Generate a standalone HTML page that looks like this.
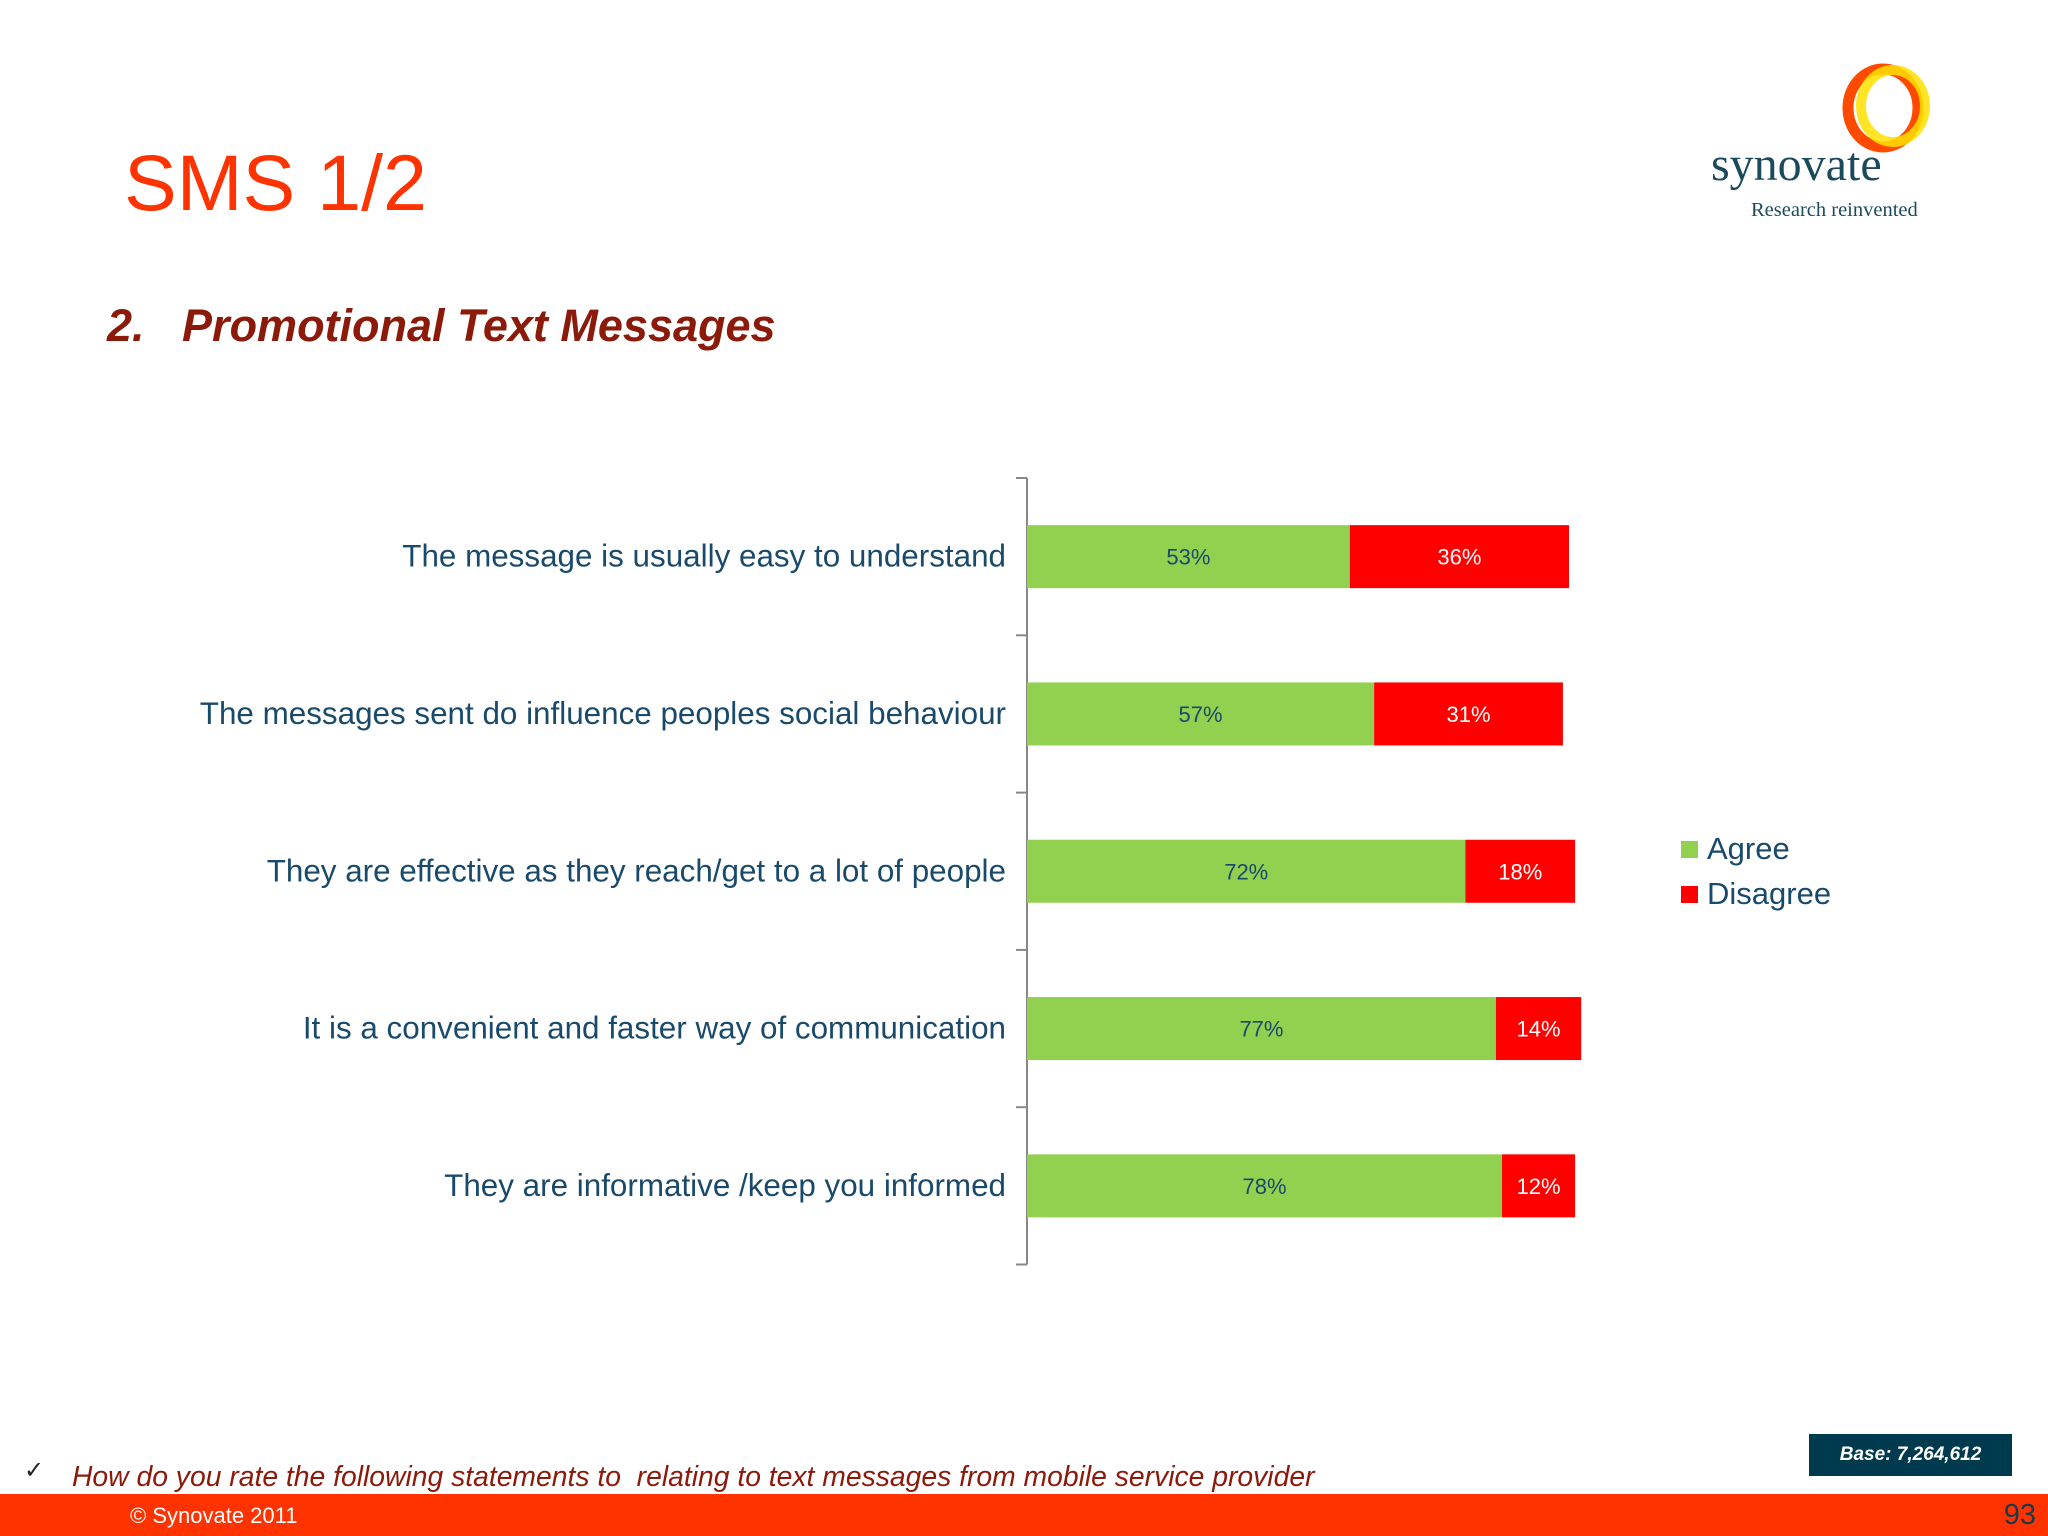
<!DOCTYPE html>
<html><head><meta charset="utf-8"><style>
body{margin:0;width:2048px;height:1536px;position:relative;background:#fff;font-family:"Liberation Sans",sans-serif;overflow:hidden}
.abs{position:absolute;white-space:nowrap}
</style></head><body>
<div class="abs" style="left:124px;top:143px;font-size:79px;color:#FF3300;line-height:1">SMS 1/2</div>
<div class="abs" style="left:107px;top:303px;font-size:45px;font-weight:bold;font-style:italic;color:#8B1A0A;line-height:1">2.&nbsp;&nbsp;&nbsp;Promotional Text Messages</div>
<svg class="abs" style="left:1690px;top:50px" width="260" height="180">
<ellipse cx="193" cy="58" rx="35" ry="39" fill="none" stroke="#FF4A00" stroke-width="11"/>
<ellipse cx="203" cy="56" rx="32" ry="36" fill="none" stroke="#FFE000" stroke-width="10" opacity="0.85"/>
<text x="21" y="130" font-family="Liberation Serif,serif" font-size="48" fill="#1A4A5C">synovate</text>
<text x="61" y="166" font-family="Liberation Serif,serif" font-size="20.5" fill="#1A4A5C">Research reinvented</text>
</svg>
<svg class="abs" style="left:0;top:0" width="2048" height="1536" id="chart"></svg>
<div class="abs" style="left:1809px;top:1434px;width:203px;height:42px;background:#003A4F;color:#fff;font-size:19px;font-weight:bold;font-style:italic;line-height:42px;text-align:center">Base: 7,264,612</div>
<div class="abs" style="left:24px;top:1456px;font-size:24px;color:#222">✓</div>
<div class="abs" style="left:72px;top:1460px;font-size:28.3px;font-style:italic;color:#8B1A0A">How do you rate the following statements to &nbsp;relating to text messages from mobile service provider</div>
<div class="abs" style="left:0;top:1494px;width:2048px;height:42px;background:#FF3300"></div>
<div class="abs" style="left:130px;top:1503px;font-size:22px;color:#fff">© Synovate 2011</div>
<div class="abs" style="right:12px;top:1499px;font-size:29px;color:#1A3A4A">93</div>
<script>
const categories=["The message is usually easy to understand","The messages sent do influence peoples social behaviour","They are effective as they reach/get to a lot of people","It is a convenient and faster way of communication","They are informative /keep you informed"];
const agree=[53,57,72,77,78];
const disagree=[36,31,18,14,12];
const seriesNames=["Agree","Disagree"];
const svg=document.getElementById('chart');
const NS='http://www.w3.org/2000/svg';
const x0=1027,pxPer=6.09,top0=478,band=157.3,barH=63;
const xs=v=>x0+v*pxPer;
const yc=i=>top0+band*(i+0.5);
function mk(t,a){const e=document.createElementNS(NS,t);for(const k in a)e.setAttribute(k,a[k]);svg.appendChild(e);return e;}
let ax=mk('line',{x1:x0,y1:top0,x2:x0,y2:top0+band*5,stroke:'#888','stroke-width':2});


for(let i=0;i<=5;i++){const t=mk('line',{x1:x0-11,x2:x0,y1:top0+band*i,y2:top0+band*i,stroke:'#888','stroke-width':2});

}
categories.forEach((c,i)=>{
 const y=yc(i);
 const l=mk('text',{x:1006,y:y+10,'text-anchor':'end','font-size':31.4,fill:'#1A4A6B'});l.textContent=c;
 
 
 const a=mk('rect',{x:xs(0),y:y-barH/2,width:xs(agree[i])-xs(0),height:barH,fill:'#92D050'});
 
 
 const d=mk('rect',{x:xs(agree[i]),y:y-barH/2,width:xs(agree[i]+disagree[i])-xs(agree[i]),height:barH,fill:'#FF0000'});
 
 
 const at=mk('text',{x:(xs(0)+xs(agree[i]))/2,y:y+8,'text-anchor':'middle','font-size':22,fill:'#1A4A6B'});at.textContent=agree[i]+'%';
 
 
 const dt=mk('text',{x:(xs(agree[i])+xs(agree[i]+disagree[i]))/2,y:y+8,'text-anchor':'middle','font-size':22,fill:'#fff'});dt.textContent=disagree[i]+'%';
 
 
});
const colors=['#92D050','#FF0000'];
seriesNames.forEach((s,i)=>{
 const y=841+i*45;
 const r=mk('rect',{x:1681,y:y,width:17,height:17,fill:colors[i]});
 
 
 const t=mk('text',{x:1707,y:y+18,'font-size':31,fill:'#1A4A6B'});t.textContent=s;
 
 
});
</script>
</body></html>
